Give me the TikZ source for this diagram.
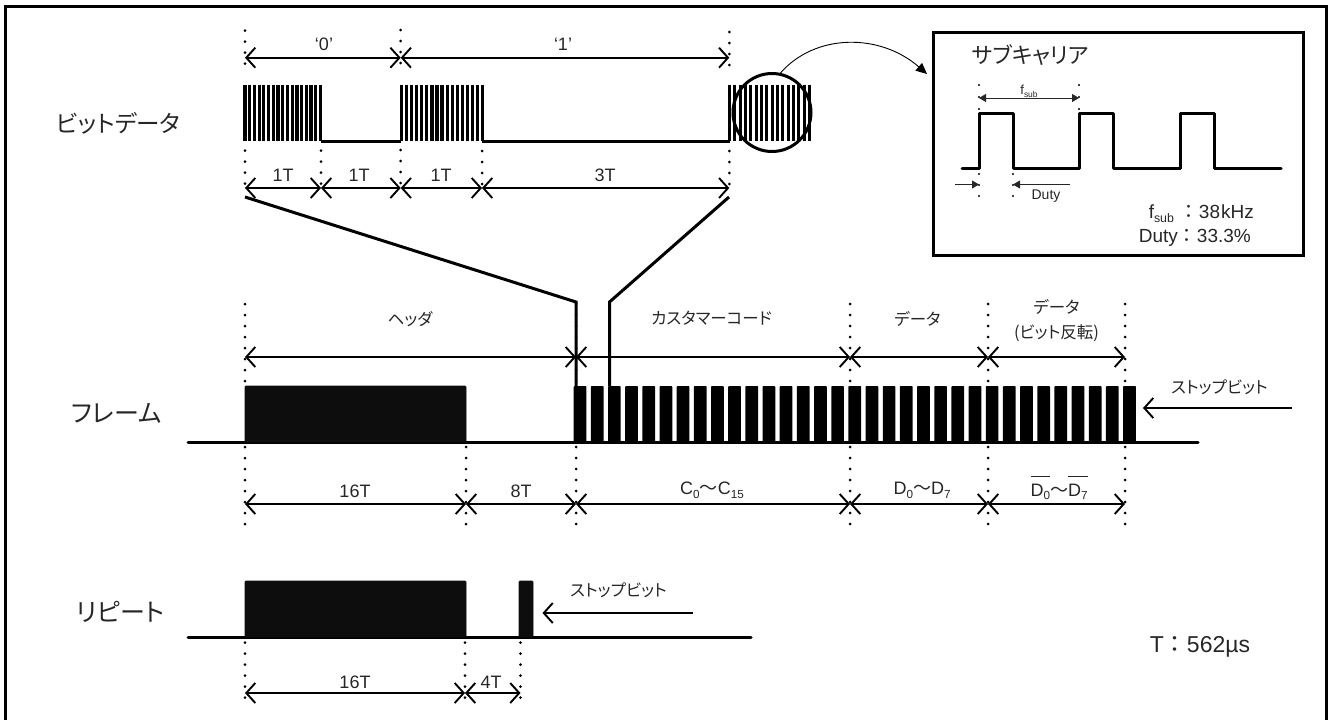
\documentclass[tikz,border=0pt]{standalone}
\usepackage{fontspec}
\setmainfont{Liberation Sans}
\newfontfamily\cjk[RawFeature={+palt}]{Noto Sans CJK JP}
\newfontfamily\cjkfull{Noto Sans CJK JP}
\usetikzlibrary{arrows.meta}
\definecolor{ink}{HTML}{262626}
\definecolor{solid}{HTML}{0D0D0D}
\newcommand{\fs}[1]{\fontsize{#1}{#1}\selectfont}
\newcommand{\sbs}[1]{\raisebox{-0.22em}{\scalebox{0.65}{#1}}}
\newcommand{\wave}{{\cjkfull ～}}
\newcommand{\fcolon}{{\cjkfull ：}}
\tikzset{
  x=1pt,y=-1pt,
  dots/.style={line width=3pt,line cap=round,dash pattern=on 0pt off 11pt,black},
  dim/.style={line width=1.9pt,black,{Straight Barb[length=9pt,width=20pt,line width=1.9pt]}-{Straight Barb[length=9pt,width=20pt,line width=1.9pt]}},
  pointer/.style={line width=1.9pt,black,-{Straight Barb[length=9pt,width=20pt,line width=1.9pt]}},
  wire/.style={line width=3pt,black},
  pulse/.style={line width=3.2pt,solid},
  block/.style={fill=solid,draw=solid,line width=0.6pt,rounded corners=0.8pt},
  txt/.style={inner sep=0pt,text=ink,font=\fs{18}},
  jp/.style={inner sep=0pt,text=ink,font=\cjk\fs{16.5}},
  head/.style={inner sep=0pt,text=ink,font=\cjk\fs{25}},
  thin dim/.style={line width=0.9pt,ink},
  tri/.style={line width=0.9pt,ink,-{Triangle[length=7pt,width=8pt]}},
}
\begin{document}
\begin{tikzpicture}
\useasboundingbox (0,0) rectangle (1328,720);
% outer frame (runs off the lower edge)
\coordinate (fa) at (5,720); \coordinate (fb) at (5,6);
\coordinate (fc) at (1326,6); \coordinate (fd) at (1326,720);
\draw[line width=3pt,black] (fa) -- (fb) -- (fc) -- (fd);

% ---- row labels
\node[head,font=\cjk\fs{23.5}] (lbit) at (118.5,123.5) {ビットデータ};
\node[head] (lframe) at (116.5,413) {フレーム};
\node[head] (lrep) at (120.5,612) {リピート};

% ---- bit data: dotted guides
\foreach \x/\y in {245/30.7,400.7/30,729.3/32}{\draw[dots] (\x,\y) -- (\x,\y+44);}
\foreach \x/\y in {245/150.7,321/150.7,400.7/150,482/151,729.3/151}{\draw[dots] (\x,\y) -- (\x,\y+34);}

% bit data: bursts
\foreach \i in {0,...,16}{\draw[pulse] ({245+\i*4.72},84.5) -- ({245+\i*4.72},141);}
\foreach \i in {0,...,16}{\draw[pulse] ({401.5+\i*5.07},84.5) -- ({401.5+\i*5.07},141);}
\foreach \i in {0,...,15}{\draw[pulse] ({729.5+\i*5.33},84.5) -- ({729.5+\i*5.33},141);}
\coordinate (b1) at (321,141); \coordinate (b2) at (401,141);
\coordinate (b3) at (482,141); \coordinate (b4) at (730,141);
\draw[wire] (b1) -- (b2); \draw[wire] (b3) -- (b4);

% bit data: dimensions
\coordinate (u0) at (245,57.7); \coordinate (u1) at (400.7,57.7); \coordinate (u2) at (729.3,57.7);
\draw[dim] (u0) -- (u1); \draw[dim] (u1) -- (u2);
\node[txt] (t0) at (324,44) {‘0’};
\node[txt] (t1) at (563,44) {‘1’};
\coordinate (v0) at (245,188); \coordinate (v1) at (321,188); \coordinate (v2) at (400.7,188);
\coordinate (v3) at (482,188); \coordinate (v4) at (729.3,188);
\draw[dim] (v0) -- (v1); \draw[dim] (v1) -- (v2); \draw[dim] (v2) -- (v3); \draw[dim] (v3) -- (v4);
\node[txt] (n1) at (283,175) {1T};
\node[txt] (n2) at (359,175) {1T};
\node[txt] (n3) at (441,175) {1T};
\node[txt] (n4) at (605,175) {3T};

% magnifier
\node[draw=black,line width=3pt,circle,minimum size=78pt,inner sep=0pt] (lens) at (772,112.5) {};
\coordinate (ca) at (780,73.5);
\coordinate (boxin) at (927,74);
\draw[line width=0.9pt,black,-{Triangle[length=11pt,width=10pt]}] (ca) .. controls (815,33) and (880,33) .. (boxin);

% ---- subcarrier box
\node[draw=black,line width=3pt,minimum width=370pt,minimum height=223pt,inner sep=0pt] (subbox) at (1118,143.5) {};
\node[inner sep=0pt,text=ink,font=\cjk\fs{22}] (subt) at (1030.5,55) {サブキャリア};
\foreach \x in {979,1079}{\draw[line width=2.4pt,line cap=round,dash pattern=on 0pt off 12pt] (\x,85) -- (\x,110);}
\foreach \x in {979,1013}{\draw[line width=2.4pt,line cap=round,dash pattern=on 0pt off 11pt] (\x,174) -- (\x,197);}
\coordinate (w0) at (962,168);
\coordinate (w9) at (1281,168);
\draw[line width=3pt,black,line cap=round,line join=round] (w0) -- (979,168) -- (979,113) -- (1013,113) -- (1013,168) -- (1079,168) -- (1079,113) -- (1113,113) -- (1113,168) -- (1180,168) -- (1180,113) -- (1214,113) -- (1214,168) -- (w9);
\coordinate (fs0) at (979,98); \coordinate (fs1) at (1079,98);
\draw[thin dim,{Triangle[length=7pt,width=8pt]}-{Triangle[length=7pt,width=8pt]}] (fs0) -- (fs1);
\node[inner sep=0pt,text=ink,font=\fs{13}] (fsl) at (1029,91) {f\sbs{sub}};
\coordinate (d0) at (955,184.5); \coordinate (d1) at (979,184.5); \coordinate (d2) at (1070,184.5); \coordinate (d3) at (1013,184.5);
\draw[tri] (d0) -- (d1); \draw[tri] (d2) -- (d3);
\node[inner sep=0pt,text=ink,font=\fs{14}] (dl) at (1046,196.5) {Duty};
\node[inner sep=0pt,text=ink,font=\fs{19},anchor=east] (fv) at (1254,214) {f\sbs{sub}\hspace{6pt}\fcolon 38\hspace{1pt}kHz};
\node[inner sep=0pt,text=ink,font=\fs{19},anchor=east] (dv) at (1251,238) {Duty\fcolon 33.3\%};

% ---- frame: slanted lead lines
\foreach \x in {245,576,850,988,1125}{\draw[dots] (\x,304) -- (\x,382);}
\foreach \x in {245,466,576,850,988,1125}{\draw[dots] (\x,447) -- (\x,535);}
\coordinate (s0) at (245,197); \coordinate (s1) at (576,302); \coordinate (s2) at (576,386);
\coordinate (s3) at (729,197); \coordinate (s4) at (609.5,302); \coordinate (s5) at (609.5,386);
\draw[wire,miter limit=10] (s0) -- (s1) -- (s2);
\draw[wire,miter limit=10] (s3) -- (s4) -- (s5);

% frame: upper dimensions
\coordinate (p0) at (245,357); \coordinate (p1) at (576,357); \coordinate (p2) at (850,357);
\coordinate (p3) at (988,357); \coordinate (p4) at (1125,357);
\draw[dim] (p0) -- (p1); \draw[dim] (p1) -- (p2); \draw[dim] (p2) -- (p3); \draw[dim] (p3) -- (p4);
\node[jp] (h1) at (410,319) {ヘッダ};
\node[jp] (h2) at (711.5,318) {カスタマーコード};
\node[jp] (h3) at (917.5,319) {データ};
\node[jp] (h4) at (1056.5,307) {データ};
\node[jp] (h5) at (1056.5,333) {(ビット反転)};

% frame: signal
\coordinate (l0) at (188,442); \coordinate (l1) at (1198,442);
\draw[wire,line cap=round] (l0) -- (l1);
\node[block,minimum width=221pt,minimum height=56pt,inner sep=0pt] (fh) at (355.5,414) {};
\foreach \i in {0,...,32}{\fill[solid,rounded corners=0.8pt] ({573.7+\i*17.17},386) rectangle ({586.4+\i*17.17},443);}
% frame: stop-bit pointer
\coordinate (st0) at (1292,408); \coordinate (st1) at (1143,408);
\draw[pointer] (st0) -- (st1);
\node[jp] (st) at (1219.5,387) {ストップビット};

% frame: lower dimensions
\coordinate (q0) at (245,504); \coordinate (q1) at (466,504); \coordinate (q2) at (576,504);
\coordinate (q3) at (850,504); \coordinate (q4) at (988,504); \coordinate (q5) at (1125,504);
\draw[dim] (q0) -- (q1); \draw[dim] (q1) -- (q2); \draw[dim] (q2) -- (q3); \draw[dim] (q3) -- (q4); \draw[dim] (q4) -- (q5);
\node[txt] (m1) at (355,491) {16T};
\node[txt] (m2) at (521,491) {8T};
\node[txt] (m3) at (712,490) {C\sbs{0}\wave C\sbs{15}};
\node[txt] (m4) at (922,490) {D\sbs{0}\wave D\sbs{7}};
\node[txt,anchor=base] (m5) at (1059,496) {$\overline{\hbox{\rule{0pt}{1.05em}D\sbs{0}}}$\wave$\overline{\hbox{\rule{0pt}{1.05em}D\sbs{7}}}$};

% ---- repeat
\foreach \x in {245,465,520.5}{\draw[dots] (\x,642.7) -- (\x,698);}
\coordinate (r0) at (188,637); \coordinate (r1) at (751,637);
\draw[wire,line cap=round] (r0) -- (r1);
\node[block,minimum width=221pt,minimum height=56pt,inner sep=0pt] (rh) at (355.5,609) {};
\node[block,minimum width=14pt,minimum height=56pt,inner sep=0pt] (rs) at (526,609) {};
\coordinate (sr0) at (693,613); \coordinate (sr1) at (542.5,613);
\draw[pointer] (sr0) -- (sr1);
\node[jp] (sr) at (618.5,590) {ストップビット};
\coordinate (y0) at (245,693); \coordinate (y1) at (465,693); \coordinate (y2) at (520.5,693);
\draw[dim] (y0) -- (y1); \draw[dim] (y1) -- (y2);
\node[txt] (y16) at (355,682) {16T};
\node[txt] (y4) at (491,682) {4T};

% ---- period
\node[inner sep=0pt,text=ink,font=\fs{23}] (tv) at (1200,647) {T\fcolon 562µs};
\end{tikzpicture}
\end{document}
